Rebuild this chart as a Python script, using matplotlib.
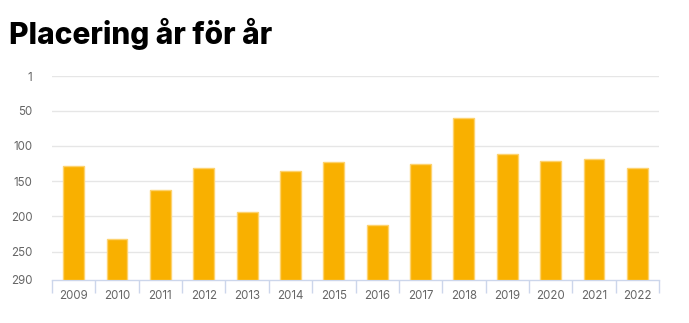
import numpy as np
import matplotlib
matplotlib.use("Agg")
import matplotlib.pyplot as plt

# Ranking per year (lower is better)
years = ["2009", "2010", "2011", "2012", "2013", "2014", "2015",
         "2016", "2017", "2018", "2019", "2020", "2021", "2022"]
placement = [129, 232, 163, 132, 193, 136, 123,
             212, 126, 61, 111, 122, 119, 132]
y_ticks = [1, 50, 100, 150, 200, 250, 290]

worst = 290
best = 1

plt.rcParams["font.family"] = ["Inter", "DejaVu Sans"]

fig = plt.figure(figsize=(6.89, 3.23), dpi=100)
ax = fig.add_axes([52 / 689, 1 - 280 / 323, 607 / 689, 204 / 323])

x = np.arange(len(years))
vals = np.array(placement)
ax.bar(x, vals - worst, bottom=worst, width=0.48,
       color="#f9b000", edgecolor="#fdd26e", linewidth=1, zorder=3)

ax.set_ylim(worst, best)
ax.set_xlim(-0.5, len(years) - 0.5)

ax.set_yticks(y_ticks)
ax.set_yticklabels([str(t) for t in y_ticks])
for t in y_ticks[:-1]:
    ax.axhline(t, color="#e6e6e6", linewidth=1, zorder=1)

ax.set_xticks(x)
ax.set_xticklabels(years)
ax.set_xticks(np.arange(-0.5, len(years)), minor=True)
ax.tick_params(axis="x", which="major", length=0, pad=7,
               labelsize=8.3, labelcolor="#666666")
ax.tick_params(axis="x", which="minor", length=9, width=1, color="#ccd6eb")
ax.tick_params(axis="y", length=0, pad=14, labelsize=8.3, labelcolor="#666666")

for side in ["top", "right", "left"]:
    ax.spines[side].set_visible(False)
ax.spines["bottom"].set_color("#ccd6eb")
ax.spines["bottom"].set_linewidth(1)

fig.text(9 / 689, 1 - 44 / 323, "Placering år för år", fontsize=21.5,
         fontweight="heavy", color="#000000", ha="left", va="baseline")

fig.savefig("out.png", dpi=100)
